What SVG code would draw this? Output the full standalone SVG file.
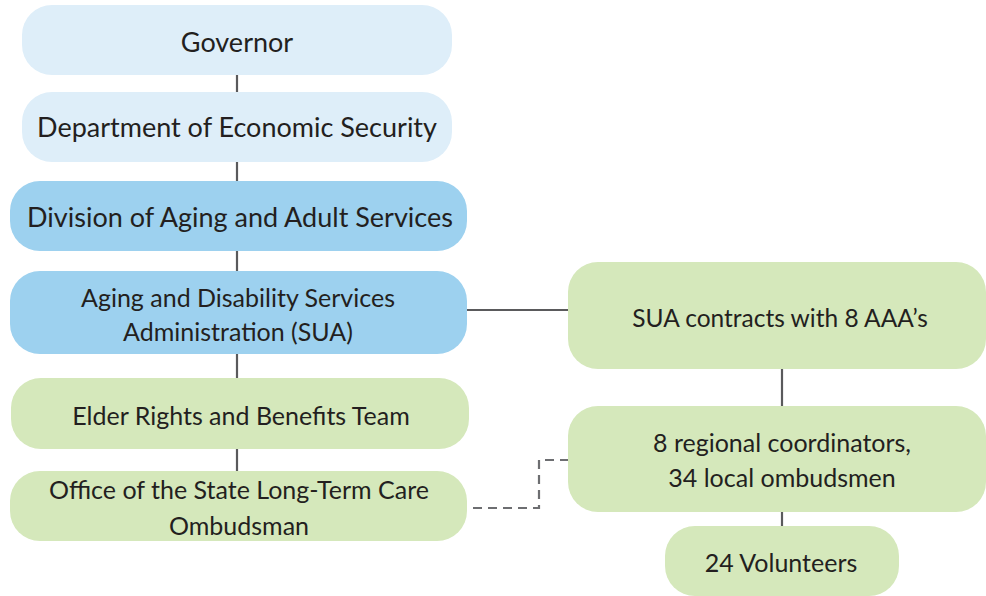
<svg xmlns="http://www.w3.org/2000/svg" width="986" height="596" viewBox="0 0 986 596">
<style>
.lb{fill:#deeef9}
.mb{fill:#9dd1ef}
.gr{fill:#d5e8bb}
text{font-family:Lato,"Open Sans","Liberation Sans",sans-serif;font-size:25px;fill:#231f20;text-anchor:middle}
text.big{font-size:27px}
.ln{stroke:#5a5a5c;stroke-width:2.2;fill:none}
.dash{stroke:#6d6e71;stroke-width:2.2;fill:none;stroke-dasharray:9 6}
</style>
<rect width="986" height="596" fill="#ffffff"/>
<g id="connectors">
<line class="ln" x1="237" y1="75" x2="237" y2="92"/>
<line class="ln" x1="237" y1="162" x2="237" y2="181"/>
<line class="ln" x1="237" y1="251" x2="237" y2="271"/>
<line class="ln" x1="237" y1="354" x2="237" y2="378"/>
<line class="ln" x1="237" y1="449" x2="237" y2="471"/>
<line class="ln" x1="467" y1="310" x2="568" y2="310"/>
<line class="ln" x1="782" y1="369" x2="782" y2="406"/>
<line class="ln" x1="782" y1="512" x2="782" y2="526"/>
<polyline class="dash" points="473,508 539,508 539,460 568,460"/>
</g>
<g id="governor"><rect class="lb" x="22" y="5" width="430" height="70" rx="30"/><text class="big" x="237" y="52">Governor</text></g>
<g id="des"><rect class="lb" x="22" y="92" width="430" height="70" rx="30"/><text class="big" x="237" y="137">Department of Economic Security</text></g>
<g id="daas"><rect class="mb" x="10" y="181" width="457" height="70" rx="30"/><text class="big" x="240" y="227">Division of Aging and Adult Services</text></g>
<g id="adsa"><rect class="mb" x="10" y="271" width="457" height="83" rx="30"/><text x="238" y="307">Aging and Disability Services</text><text x="238" y="341">Administration (SUA)</text></g>
<g id="erbt"><rect class="gr" x="11" y="378" width="458" height="71" rx="30"/><text x="241" y="425">Elder Rights and Benefits Team</text></g>
<g id="oltc"><rect class="gr" x="10" y="471" width="457" height="70" rx="30"/><text x="239" y="499">Office of the State Long-Term Care</text><text x="239" y="535">Ombudsman</text></g>
<g id="sua"><rect class="gr" x="568" y="262" width="418" height="107" rx="30"/><text x="780" y="327" style="font-size:24.5px">SUA contracts with 8 AAA’s</text></g>
<g id="regional"><rect class="gr" x="568" y="406" width="418" height="106" rx="30"/><text x="782" y="452">8 regional coordinators,</text><text x="782" y="487">34 local ombudsmen</text></g>
<g id="volunteers"><rect class="gr" x="665" y="526" width="234" height="70" rx="30"/><text x="781" y="572">24 Volunteers</text></g>
</svg>
